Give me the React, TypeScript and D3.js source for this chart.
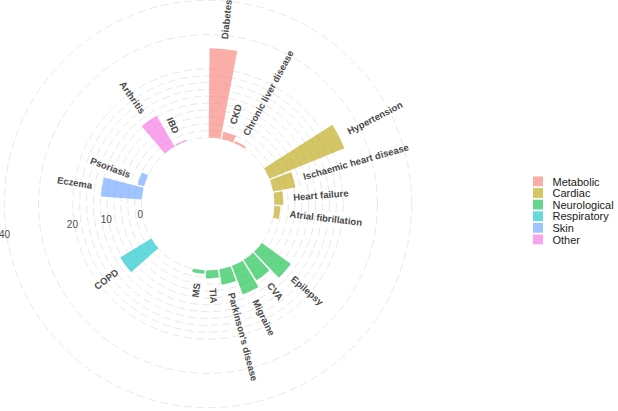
import React from "react";
import * as d3 from "d3";

// ---- data ----
const groups = ["Metabolic", "Cardiac", "Neurological", "Respiratory", "Skin", "Other"];
const groupColors = ["#F8766D", "#B79F00", "#00BA38", "#00BFC4", "#619CFF", "#F564E3"];
const conditions = [
  "Diabetes", "CKD", "Chronic liver disease",
  "Hypertension", "Ischaemic heart disease", "Heart failure", "Atrial fibrillation",
  "Epilepsy", "CVA", "Migraine", "Parkinson's disease", "TIA", "MS",
  "COPD",
  "Eczema", "Psoriasis",
  "Arthritis", "IBD",
];
const conditionGroups = [
  "Metabolic", "Metabolic", "Metabolic",
  "Cardiac", "Cardiac", "Cardiac", "Cardiac",
  "Neurological", "Neurological", "Neurological", "Neurological", "Neurological", "Neurological",
  "Respiratory",
  "Skin", "Skin",
  "Other", "Other",
];
const prevalence = [
  26.0, 2.1, 0.6,
  23.6, 6.6, 2.6, 1.7,
  10.4, 7.0, 8.9, 4.5, 2.3, 1.0,
  10.6,
  11.9, 1.9,
  10.4, 0.4,
];
// empty slots placed after each group
const spacerSlots = [2, 2, 3, 3, 2, 1.6];
const gridValues = [0, 2, 4, 6, 8, 10, 12, 14, 16, 18, 20, 30, 40];
const axisTicks = [0, 10, 20, 40];
const axisLabelSlot = 22.95;

// ---- layout ----
const W = 618;
const H = 411;
const cx = 208;
const cy = 204;
const innerR = 66.5;
const outerR = 203.7;

export default function App() {
  const slots: number[] = [];
  let s = 0;
  groups.forEach((g, gi) => {
    conditions.forEach((c, i) => {
      if (conditionGroups[i] === g) {
        slots[i] = s;
        s += 1;
      }
    });
    s += spacerSlots[gi];
  });
  const totalSlots = s;

  const theta = d3.scaleLinear().domain([0, totalSlots]).range([0, 2 * Math.PI]);
  const r = d3.scaleLinear().domain([0, 40]).range([innerR, outerR]);
  const color = d3.scaleOrdinal<string, string>().domain(groups).range(groupColors);

  const arc = d3.arc<any>();
  const pt = (a: number, rad: number) => [cx + rad * Math.sin(a), cy - rad * Math.cos(a)];

  const axisAngle = theta(axisLabelSlot);

  return (
    <svg
      width={W}
      height={H}
      style={{ position: "absolute", left: 0, top: 0, background: "#fff" }}
      fontFamily="'Liberation Sans', Arial, sans-serif"
    >
      <rect width={W} height={H} fill="#fff" />
      <g>
        {gridValues.map((v) => (
          <circle
            key={v}
            cx={cx}
            cy={cy}
            r={r(v)}
            fill="none"
            stroke="#d4d4d4"
            strokeWidth={0.55}
            strokeDasharray="8 4"
          />
        ))}
      </g>
      <g transform={`translate(${cx},${cy})`}>
        {conditions.map((c, i) => (
          <path
            key={c}
            d={
              arc({
                innerRadius: innerR,
                outerRadius: r(prevalence[i]),
                startAngle: theta(slots[i] + 0.05),
                endAngle: theta(slots[i] + 0.95),
              }) as string
            }
            fill={color(conditionGroups[i])}
            fillOpacity={0.6}
          />
        ))}
      </g>
      <g>
        {conditions.map((c, i) => {
          const a = theta(slots[i] + 0.5);
          const deg = (a * 180) / Math.PI;
          const [x, y] = pt(a, r(prevalence[i]) + 10);
          const flip = deg > 180;
          const rot = flip ? deg + 90 : deg - 90;
          return (
            <text
              key={c}
              x={x}
              y={y}
              transform={`rotate(${rot},${x},${y})`}
              textAnchor={flip ? "end" : "start"}
              dominantBaseline="central"
              fontSize={9.5}
              fontWeight="bold"
              fill="#4a4a4a"
            >
              {c}
            </text>
          );
        })}
      </g>
      <g>
        {axisTicks.map((v) => {
          const [x, y] = pt(axisAngle, r(v) + 2);
          return (
            <text
              key={v}
              x={x}
              y={y}
              textAnchor="middle"
              dominantBaseline="central"
              fontSize={10}
              fill="#4d4d4d"
            >
              {v}
            </text>
          );
        })}
      </g>
      <g>
        {groups.map((g, i) => {
          const y0 = 176.5 + i * 11.6;
          return (
            <g key={g}>
              <rect x={533} y={y0} width={10} height={9.8} fill={color(g)} fillOpacity={0.6} />
              <text
                x={552.5}
                y={y0 + 5}
                dominantBaseline="central"
                fontSize={11}
                fill="#1a1a1a"
              >
                {g}
              </text>
            </g>
          );
        })}
      </g>
    </svg>
  );
}
